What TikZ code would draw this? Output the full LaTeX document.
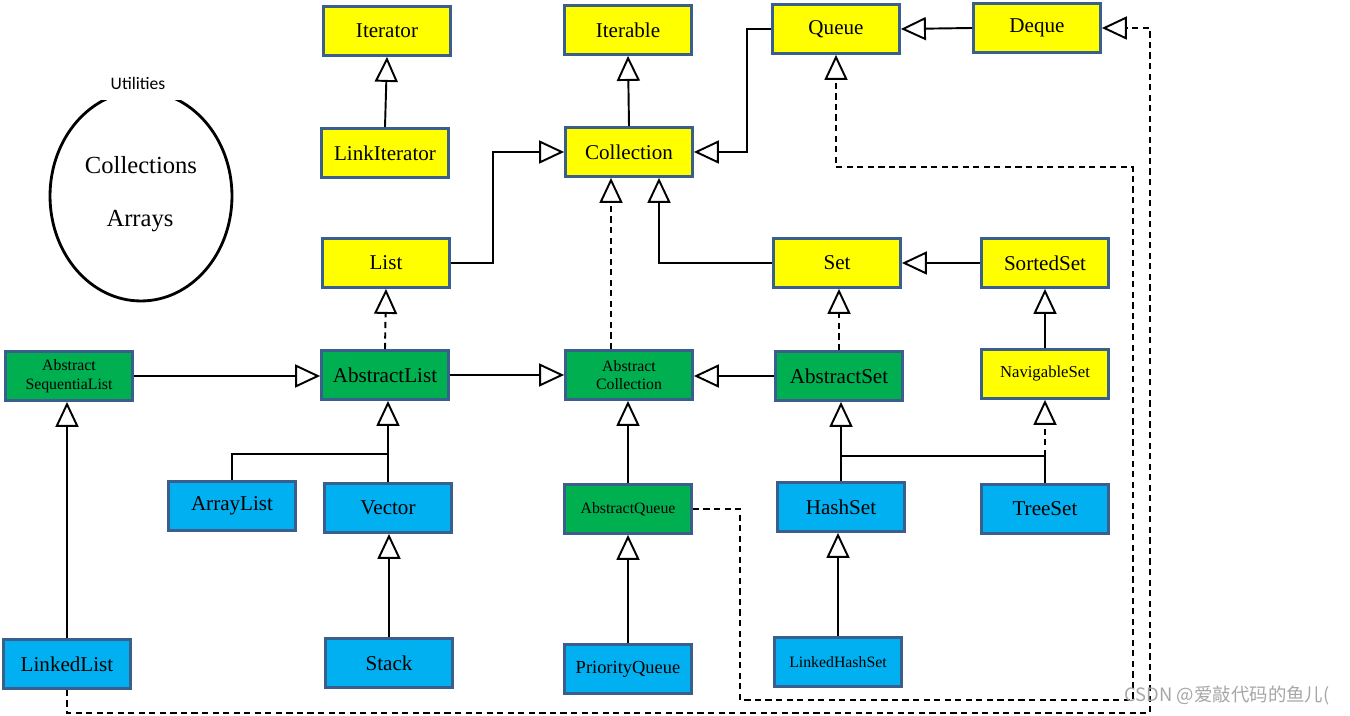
\documentclass[tikz,border=0pt]{standalone}
\usepackage{fontspec}
\setmainfont{Liberation Serif}
\newfontfamily\wmfont{Noto Sans CJK SC}
\newfontfamily\utilfont{Carlito}
\usetikzlibrary{arrows.meta,shapes.geometric,calc}

\definecolor{boxyellow}{RGB}{255,255,0}
\definecolor{boxgreen}{RGB}{0,176,80}
\definecolor{boxblue}{RGB}{0,176,240}
\definecolor{boxline}{RGB}{58,95,140}

\begin{document}
\begin{tikzpicture}[x=0.02cm,y=-0.02cm,
  box/.style={draw=boxline,line width=1.6pt,minimum width=2.54cm,minimum height=0.98cm,inner sep=1pt,align=center,font=\fontsize{12}{13}\selectfont},
  yel/.style={box,fill=boxyellow},
  grn/.style={box,fill=boxgreen},
  blu/.style={box,fill=boxblue},
  small/.style={font=\fontsize{9}{10.5}\selectfont},
  inh/.style={line width=1.1pt,-{Triangle[open,length=0.5cm,width=0.46cm]}},
  impl/.style={inh,dash pattern=on 3.5pt off 2.5pt},
  link/.style={line width=1.1pt}]
\useasboundingbox (0,0) rectangle (1350,716);

\node[ellipse,draw,line width=1.6pt,minimum width=3.64cm,minimum height=4.2cm] (util) at (141,196) {};
\node[fill=white,inner xsep=10pt,inner ysep=6pt,font=\utilfont\fontsize{10}{11}\selectfont] (utiltxt) at (138,83) {Utilities};
  \node[font=\fontsize{14}{15}\selectfont] (colls) at (141,165) {Collections};
  \node[font=\fontsize{14}{15}\selectfont] (arrs) at (140,221) {Arrays};

\node[yel] (itr) at (387,31) {Iterator};
\node[yel] (litr) at (385,153) {LinkIterator};
\node[yel] (itbl) at (628,30) {Iterable};
\node[yel] (queue) at (836,29) {Queue};
\node[yel] (deque) at (1037,28) {Deque};
\node[yel] (coll) at (629,152) {Collection};
\node[yel] (list) at (386,263) {List};
\node[yel] (set) at (837,263) {Set};
\node[yel] (sset) at (1045,263) {SortedSet};

\node[grn,small] (aseq) at (69,376) {Abstract\\SequentiaList};
\node[grn] (alst) at (385,375) {AbstractList};
\node[grn,small] (acoll) at (629,375) {Abstract\\Collection};
\node[grn] (aset) at (839,376) {AbstractSet};
\node[yel,font=\fontsize{9.5}{11}\selectfont] (nset) at (1045,374) {NavigableSet};

\node[blu] (arr) at (232,506) {ArrayList};
\node[blu] (vec) at (388,508) {Vector};
\node[grn,small] (aq) at (628,509) {AbstractQueue};
\node[blu] (hset) at (841,507) {HashSet};
\node[blu] (tset) at (1045,509) {TreeSet};

\node[blu] (llst) at (67,664) {LinkedList};
\node[blu] (stk) at (389,663) {Stack};
\node[blu,font=\fontsize{10.5}{12}\selectfont] (pq) at (628,669) {PriorityQueue};
\node[blu,font=\fontsize{9}{10}\selectfont] (lhs) at (838,662) {LinkedHashSet};

\draw[inh] (litr.north) -- (itr.south);
\draw[inh] (coll.north) -- (itbl.south);
\coordinate (q1) at (747,29);
\draw[inh] (queue.west) -- (q1) |- (coll.east);
\draw[inh] (deque.west) -- (queue.east);
\coordinate (l1) at (493,263);
\draw[inh] (list.east) -- (l1) |- (coll.west);
\draw[inh] (set.west) -| ($(coll.south)+(30,0)$);
\draw[inh] (sset.west) -- (set.east);

  \draw[impl] ($(acoll.north)+(-18,0)$) -- ($(coll.south)+(-18,0)$);
  \draw[impl] (alst.north) -- (list.south);
  \draw[impl] (aset.north) -- (aset.north |- set.south);
\draw[inh] (nset.north) -- (sset.south);

\draw[inh] (aseq.east) -- (aseq.east -| alst.west);
\draw[inh] (alst.east) -- (alst.east -| acoll.west);
\draw[inh] (aset.west) -- (aset.west -| acoll.east);

\coordinate (v1) at (388,454);
\draw[link] (arr.north) |- (v1);
\draw[inh] (vec.north) -- (vec.north |- alst.south);
\draw[inh] (aq.north) -- (aq.north |- acoll.south);
\coordinate (h1) at (841,456);
\draw[inh] (hset.north) -- (hset.north |- aset.south);
\draw[link] (tset.north) |- (h1);
  \draw[impl] (tset.north |- h1) -- (nset.south);

\draw[inh] (stk.north) -- (stk.north |- vec.south);
\draw[inh] (pq.north) -- (pq.north |- aq.south);
\draw[inh] (lhs.north) -- (lhs.north |- hset.south);
\draw[inh] (llst.north) -- (llst.north |- aseq.south);

\coordinate (d1) at (1150,713);
\draw[impl] (llst.south) |- (d1) |- (deque.east);
\coordinate (d2) at (740,700);
\coordinate (d3) at (1133,167);
\draw[impl] (aq.east) -| (d2) -| (d3) -| (queue.south);

\node[text=black!35,font=\wmfont\fontsize{10.5}{12}\selectfont] (wm) at (1227,696) {CSDN @爱敲代码的鱼儿(};

\end{tikzpicture}
\end{document}
